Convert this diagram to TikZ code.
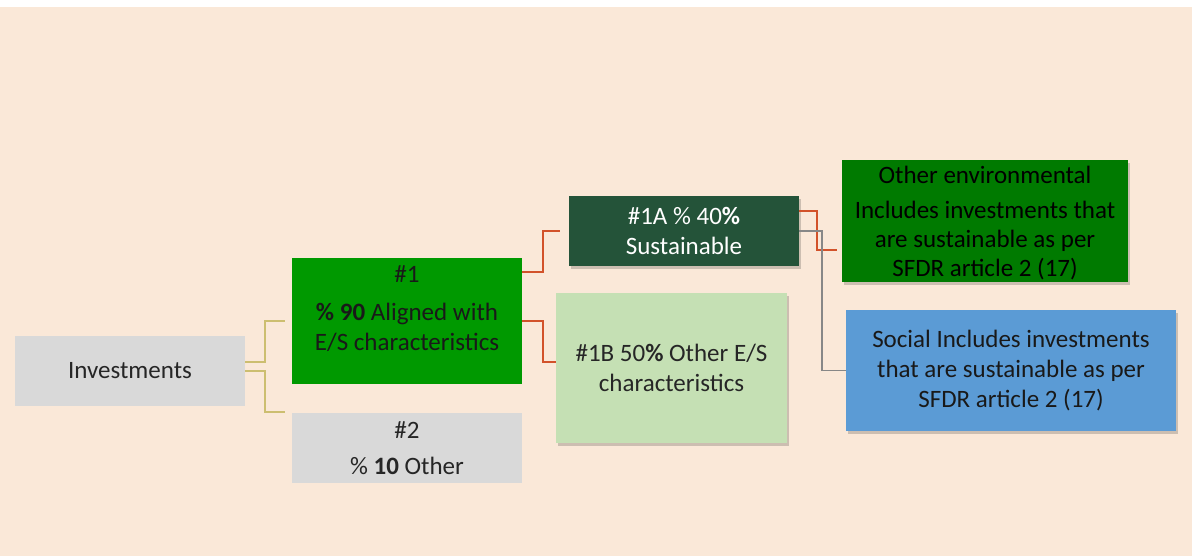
\documentclass[tikz,border=0pt]{standalone}
\usepackage{fontspec}
\setmainfont{Carlito}
\usepackage{xcolor}
\usepackage{tikz}
\usetikzlibrary{shadows}

\definecolor{peach}{RGB}{250,232,216}
\definecolor{boxgray}{RGB}{217,217,217}
\definecolor{aligngreen}{RGB}{0,153,0}
\definecolor{sustgreen}{RGB}{36,83,57}
\definecolor{lightgreen}{RGB}{197,224,180}
\definecolor{envgreen}{RGB}{0,122,0}
\definecolor{socblue}{RGB}{91,155,213}
\definecolor{lineolive}{RGB}{204,190,112}
\definecolor{linered}{RGB}{210,82,42}
\definecolor{linegray}{RGB}{135,135,135}

\begin{document}
\begin{tikzpicture}[x=0.5pt, y=-0.5pt,
    box/.style={rectangle, inner sep=0pt, outer sep=0pt, align=center,
      font=\fontsize{12.5}{15}\selectfont},
    shade/.style={drop shadow={shadow xshift=1.2pt, shadow yshift=-1.5pt,
      opacity=0.18, fill=black}},
    link/.style={line width=0.8pt}]
    % background
    \useasboundingbox (0,0) rectangle (1192,556);
    \fill[peach] (0,7) rectangle (1192,556);

    % boxes
    \node[box, fill=boxgray, text=black!85, minimum width=115pt, minimum height=35pt]
        (inv) at (130,371) {Investments};
    \node[box, fill=aligngreen, minimum width=115pt, minimum height=63pt]
        (one) at (407,321) {};
    \node[box, text=black!90] (onetxt) at (407,309)
        {\#1\\[4pt]\textbf{\% 90} Aligned with\\E/S characteristics};
    \node[box, fill=boxgray, text=black!85, minimum width=115pt, minimum height=35pt]
        (two) at (407,448) {\#2\\[3pt]\% \textbf{10} Other};
    \node[box, shade, fill=sustgreen, text=white, minimum width=115pt, minimum height=35pt]
        (oneA) at (684,231) {\#1A \% 40\textbf{\%}\\Sustainable};
    \node[box, shade, fill=lightgreen, text=black!85, minimum width=115.5pt, minimum height=75pt]
        (oneB) at (671.5,368) {\#1B 50\textbf{\%} Other E/S\\characteristics};
    \node[box, shade, fill=envgreen, minimum width=143pt, minimum height=61pt]
        (env) at (985,221) {};
    \node[box, text=black, font=\fontsize{12.5}{14.6}\selectfont] (envtxt) at (985,223)
        {Other environmental\\[3pt]Includes investments that\\are sustainable as per\\SFDR article 2 (17)};
    \node[box, shade, fill=socblue, text=black!90, minimum width=165pt, minimum height=60.5pt]
        (soc) at (1011,370.5) {Social Includes investments\\that are sustainable as per\\SFDR article 2 (17)};

    % connectors
    \draw[link, lineolive] ([yshift=4.5pt]inv.east) -- ++(20,0) |- ([xshift=-3.5pt]one.west);
    \draw[link, lineolive] (inv.east) -- ++(20,0) |- ([xshift=-3.5pt,yshift=0.5pt]two.north west);
    \draw[link, linered] ([yshift=-7pt]one.north east) -- ++(21,0) |- ([xshift=-4.5pt]oneA.west);
    \draw[link, linered] (one.east) -- ++(21,0) |- ([yshift=3pt]oneB.west);
    \draw[link, linered] ([yshift=10pt]oneA.east) -- ++(18,0) |- ([xshift=-2.5pt,yshift=-14.5pt]env.west);
    \draw[link, linegray] (oneA.east) -- ++(23,0) |- (soc.west);
\end{tikzpicture}
\end{document}
